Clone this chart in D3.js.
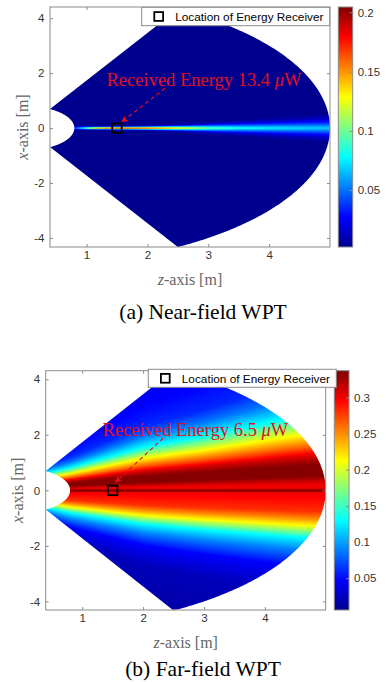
<!DOCTYPE html>
<html>
<head>
<meta charset="utf-8">
<script src="https://cdn.jsdelivr.net/npm/d3@7"></script>
<style>
  body { margin: 0; background: #fff; }
  svg { display: block; }
</style>
</head>
<body>
<div id="chart"></div>
<script>
// ---- data ----
const zTicks = [1, 2, 3, 4];
const xTicks = [-4, -2, 0, 2, 4];
const nearBarTicks = [0.05, 0.1, 0.15, 0.2];
const farBarTicks = [0.05, 0.1, 0.15, 0.2, 0.25, 0.3];
const nearRange = [0.002, 0.2045];
const farRange = [0.006, 0.337];

// annular sector that holds the field (m, degrees)
const regionInner = 0.8;
const regionOuter = 5;
const regionHalfAngle = 60;
const receiver = [1.5, 0];

// near field: beam along x = 0, sampled along z
const nearZ      = [0.78, 0.9, 1.0, 1.1, 1.2, 1.35, 1.5, 1.7, 2.0, 2.3, 2.6, 3.0, 3.5, 4.0, 4.5, 5.0];
const nearWidth  = [0.035, 0.035, 0.033, 0.03, 0.03, 0.03, 0.03, 0.032, 0.037, 0.045, 0.055, 0.075, 0.1, 0.125, 0.15, 0.18];
const nearCenter = [0.040, 0.075, 0.110, 0.145, 0.170, 0.185, 0.200, 0.195, 0.180, 0.158, 0.135, 0.102, 0.084, 0.077, 0.072, 0.068];
const nearEdge   = [0.020, 0.038, 0.055, 0.072, 0.085, 0.092, 0.100, 0.098, 0.090, 0.080, 0.068, 0.054, 0.046, 0.042, 0.040, 0.038];
const nearTail   = [0.006, 0.010, 0.014, 0.018, 0.020, 0.022, 0.024, 0.024, 0.022, 0.020, 0.018, 0.016, 0.014, 0.013, 0.013, 0.012];
const nearU = [0, 1, 2, 3];
const nearBackground = 0.002;

// far field: cross profile in units of the band half width, which grows with z
const farWidthZ    = [0.4, 0.8, 2.0, 3.0, 4.3, 5.0];
const farWidthUp   = [0.45, 0.6, 1.15, 1.45, 1.9, 2.1];
const farWidthDown = [0.45, 0.6, 0.9, 1.05, 1.22, 1.3];
const farU    = [-6, -3, -2.2, -1.7, -1.35, -1.0, -0.8, -0.6, -0.1, 0, 0.1, 0.15, 0.25, 0.45, 0.6, 0.75, 1.0, 1.35, 1.7, 2.0, 2.6, 3.4, 4.5, 6];
const farVals = [0.008, 0.022, 0.047, 0.09, 0.13, 0.213, 0.25, 0.28, 0.3, 0.3, 0.3, 0.31, 0.335, 0.335, 0.31, 0.27, 0.213, 0.13, 0.085, 0.06, 0.048, 0.038, 0.028, 0.015];
const farLineHalf = 0.045;
const farLineValue = 0.335;

// MATLAB jet
const jetStops = [0, 0.125, 0.375, 0.625, 0.875, 1];
const jetColors = ["#00008f", "#0000ff", "#00ffff", "#ffff00", "#ff0000", "#800000"];

// ---- layout ----
const W = 386, H = 682;
const panels = [
  {
    left: 50, right: 330, top: 7, bottom: 247, yDomain: [-4.33, 4.41],
    bar: { x: 338.3, w: 14.4 }, range: nearRange, barTicks: nearBarTicks,
    legend: { x: 141.7, y: 7.3, w: 188, h: 18.4 },
    note: { text: "Received Energy 13.4 ", at: [2.93, 1.53], from: [2.29, 1.45], to: [1.58, 0.23] },
    caption: "(a) Near-field WPT", captionY: 319,
    ylabX: 27.5
  },
  {
    left: 45.7, right: 325.7, top: 370.7, bottom: 610, yDomain: [-4.31, 4.31],
    bar: { x: 334.3, w: 14.7 }, range: farRange, barTicks: farBarTicks,
    legend: { x: 148.3, y: 369.3, w: 188, h: 18 },
    note: { text: "Received Energy 6.5 ", at: [2.86, 1.96], from: [2.33, 1.88], to: [1.55, 0.3] },
    caption: "(b) Far-field WPT", captionY: 676,
    ylabX: 22.5
  }
];

const red = "#e0101c";
const frameColor = "#8a8a8a";

const svg = d3.select("#chart").append("svg")
  .attr("width", W).attr("height", H)
  .attr("viewBox", `0 0 ${W} ${H}`);

const defs = svg.append("defs");
defs.append("linearGradient")
  .attr("id", "jet")
  .attr("x1", 0).attr("y1", 1).attr("x2", 0).attr("y2", 0)
  .selectAll("stop")
  .data(jetStops)
  .join("stop")
  .attr("offset", d => d)
  .attr("stop-color", (d, i) => jetColors[i]);

defs.append("marker")
  .attr("id", "head")
  .attr("viewBox", "0 0 10 10")
  .attr("refX", 9).attr("refY", 5)
  .attr("markerWidth", 7).attr("markerHeight", 7)
  .attr("markerUnits", "userSpaceOnUse")
  .attr("orient", "auto")
  .append("path")
  .attr("d", "M0,0L10,5L0,10L3,5Z")
  .attr("fill", red);

// ---- field models ----
const nearWidthScale = d3.scaleLinear().domain(nearZ).range(nearWidth).clamp(true);
const nearRows = [nearCenter, nearEdge, nearTail].map(r => d3.scaleLinear().domain(nearZ).range(r).clamp(true));
function nearValue(z, x) {
  const u = Math.abs(x) / nearWidthScale(z);
  if (u >= nearU[nearU.length - 1]) return nearBackground;
  const col = nearRows.map(s => s(z)).concat(nearBackground);
  return d3.scaleLinear().domain(nearU).range(col).clamp(true)(u);
}

const farUp = d3.scaleLinear().domain(farWidthZ).range(farWidthUp);
const farDown = d3.scaleLinear().domain(farWidthZ).range(farWidthDown);
const farProfile = d3.scaleLinear().domain(farU).range(farVals).clamp(true);
function farValue(z, x) {
  const u = x >= 0 ? x / farUp(z) : x / farDown(z);
  let v = farProfile(u);
  if (Math.abs(x) < farLineHalf) v = Math.max(v, farLineValue);
  return v;
}

function jetLut(range) {
  const c = d3.scaleLinear()
    .domain(jetStops.map(t => range[0] + t * (range[1] - range[0])))
    .range(jetColors)
    .clamp(true);
  const n = 512;
  const lut = d3.range(n).map(k => d3.rgb(c(range[0] + k / (n - 1) * (range[1] - range[0]))));
  return v => lut[Math.max(0, Math.min(n - 1, Math.round((v - range[0]) / (range[1] - range[0]) * (n - 1))))];
}

function paintField(p, valueFn, sub) {
  const w = Math.round(p.right - p.left), h = Math.round(p.bottom - p.top);
  const canvas = document.createElement("canvas");
  canvas.width = w; canvas.height = h;
  const ctx = canvas.getContext("2d");
  const img = ctx.createImageData(w, h);
  const color = jetLut(p.range);
  for (let j = 0; j < h; j++) {
    for (let i = 0; i < w; i++) {
      const z = p.x.invert(p.left + i + 0.5);
      let r = 0, g = 0, b = 0;
      for (let s = 0; s < sub; s++) {
        const c = color(valueFn(z, p.y.invert(p.top + j + (s + 0.5) / sub)));
        r += c.r; g += c.g; b += c.b;
      }
      const k = (j * w + i) * 4;
      img.data[k] = r / sub; img.data[k + 1] = g / sub; img.data[k + 2] = b / sub; img.data[k + 3] = 255;
    }
  }
  ctx.putImageData(img, 0, 0);
  return { href: canvas.toDataURL(), w, h };
}

function regionPath(p) {
  const pts = [];
  const rad = a => a * Math.PI / 180;
  for (let a = -regionHalfAngle; a <= regionHalfAngle + 1e-9; a += 0.5)
    pts.push([p.x(regionOuter * Math.cos(rad(a))), p.y(regionOuter * Math.sin(rad(a)))]);
  for (let a = regionHalfAngle; a >= -regionHalfAngle - 1e-9; a -= 0.5)
    pts.push([p.x(regionInner * Math.cos(rad(a))), p.y(regionInner * Math.sin(rad(a)))]);
  return d3.line()(pts) + "Z";
}

// ---- draw panels ----
panels.forEach((p, idx) => {
  p.x = d3.scaleLinear().domain([0.4, 5]).range([p.left, p.right]);
  p.y = d3.scaleLinear().domain(p.yDomain).range([p.bottom, p.top]);
  const g = svg.append("g");

  // field image clipped to the sector
  defs.append("clipPath").attr("id", "clip" + idx)
    .append("path").attr("d", regionPath(p));
  const field = paintField(p, idx === 0 ? nearValue : farValue, 4);
  g.append("image")
    .attr("x", p.left).attr("y", p.top)
    .attr("width", field.w).attr("height", field.h)
    .attr("preserveAspectRatio", "none")
    .attr("href", field.href)
    .attr("clip-path", `url(#clip${idx})`);

  // axes, MATLAB style: ticks inside and mirrored
  const tickFont = g => g.selectAll("text")
    .attr("font-family", "Liberation Sans, Arial, sans-serif")
    .attr("font-size", 11.5)
    .attr("fill", "#333");
  const clean = g => g.call(s => s.select(".domain").remove())
    .call(s => s.selectAll("line").attr("stroke", frameColor));

  g.append("g")
    .attr("transform", `translate(0,${p.bottom})`)
    .call(d3.axisBottom(p.x).tickValues(zTicks).tickSize(-3).tickPadding(4).tickFormat(d => String(d)))
    .call(clean).call(tickFont);
  g.append("g")
    .attr("transform", `translate(0,${p.top})`)
    .call(d3.axisTop(p.x).tickValues(zTicks).tickSize(-3).tickFormat(""))
    .call(clean);
  g.append("g")
    .attr("transform", `translate(${p.left},0)`)
    .call(d3.axisLeft(p.y).tickValues(xTicks).tickSize(-3).tickPadding(5.5).tickFormat(d => String(d)))
    .call(clean).call(tickFont);
  g.append("g")
    .attr("transform", `translate(${p.right},0)`)
    .call(d3.axisRight(p.y).tickValues(xTicks).tickSize(-3).tickFormat(""))
    .call(clean);

  g.append("rect")
    .attr("x", p.left).attr("y", p.top)
    .attr("width", p.right - p.left).attr("height", p.bottom - p.top)
    .attr("fill", "none").attr("stroke", frameColor).attr("stroke-width", 1);

  // axis labels
  const xl = g.append("text")
    .attr("x", (p.left + p.right) / 2).attr("y", p.bottom + 38)
    .attr("text-anchor", "middle")
    .attr("font-family", "Liberation Serif, Times New Roman, serif")
    .attr("font-size", 16).attr("fill", "#666");
  xl.append("tspan").attr("font-style", "italic").text("z");
  xl.append("tspan").text("-axis [m]");
  const yl = g.append("text")
    .attr("transform", `translate(${p.ylabX},${(p.top + p.bottom) / 2}) rotate(-90)`)
    .attr("text-anchor", "middle")
    .attr("font-family", "Liberation Serif, Times New Roman, serif")
    .attr("font-size", 16).attr("fill", "#666");
  yl.append("tspan").attr("font-style", "italic").text("x");
  yl.append("tspan").text("-axis [m]");

  // colorbar
  const cb = d3.scaleLinear().domain(p.range).range([p.bottom, p.top]);
  g.append("rect")
    .attr("x", p.bar.x).attr("y", p.top)
    .attr("width", p.bar.w).attr("height", p.bottom - p.top)
    .attr("fill", "url(#jet)")
    .attr("stroke", frameColor).attr("stroke-width", 1);
  g.append("g")
    .attr("transform", `translate(${p.bar.x + p.bar.w},0)`)
    .call(d3.axisRight(cb).tickValues(p.barTicks).tickSize(-3).tickPadding(5).tickFormat(d => String(d)))
    .call(clean).call(tickFont);

  // receiver marker
  g.append("rect")
    .attr("x", p.x(receiver[0]) - 4.7).attr("y", p.y(receiver[1]) - 4.7)
    .attr("width", 9.4).attr("height", 9.4)
    .attr("fill", "none").attr("stroke", "#000").attr("stroke-width", 1.8);

  // annotation
  g.append("line")
    .attr("x1", p.x(p.note.from[0])).attr("y1", p.y(p.note.from[1]))
    .attr("x2", p.x(p.note.to[0])).attr("y2", p.y(p.note.to[1]))
    .attr("stroke", red).attr("stroke-width", 1.2)
    .attr("stroke-dasharray", "4,3")
    .attr("marker-end", "url(#head)");
  const nt = g.append("text")
    .attr("x", p.x(p.note.at[0])).attr("y", p.y(p.note.at[1]))
    .attr("text-anchor", "middle")
    .attr("font-family", "Liberation Serif, Times New Roman, serif")
    .attr("font-size", 18.5).attr("fill", red);
  nt.append("tspan").text(p.note.text);
  nt.append("tspan").attr("font-style", "italic").text("\u03bc");
  nt.append("tspan").text("W");

  // legend
  g.append("rect")
    .attr("x", p.legend.x).attr("y", p.legend.y)
    .attr("width", p.legend.w).attr("height", p.legend.h)
    .attr("fill", "#fff").attr("stroke", frameColor).attr("stroke-width", 1);
  g.append("rect")
    .attr("x", p.legend.x + 12.6).attr("y", p.legend.y + p.legend.h / 2 - 4.4)
    .attr("width", 8.8).attr("height", 8.8)
    .attr("fill", "none").attr("stroke", "#000").attr("stroke-width", 1.8);
  g.append("text")
    .attr("x", p.legend.x + 33.5).attr("y", p.legend.y + p.legend.h / 2 + 4.2)
    .attr("font-family", "Liberation Sans, Arial, sans-serif")
    .attr("font-size", 11.8).attr("fill", "#000")
    .text("Location of Energy Receiver");

  // caption
  g.append("text")
    .attr("x", 203).attr("y", p.captionY)
    .attr("text-anchor", "middle")
    .attr("font-family", "Liberation Serif, Times New Roman, serif")
    .attr("font-size", 21.5).attr("fill", "#000")
    .text(p.caption);
});
</script>
</body>
</html>
